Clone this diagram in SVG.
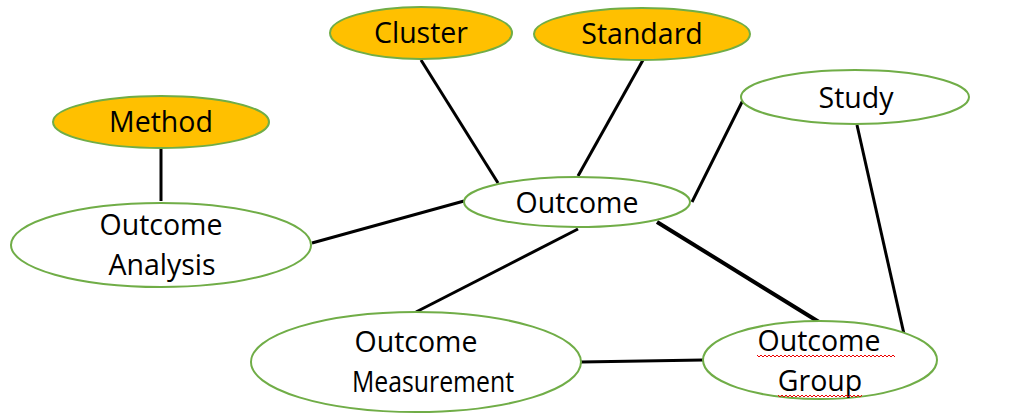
<svg xmlns="http://www.w3.org/2000/svg" width="1010" height="417" viewBox="0 0 1010 417">
<style>
.n{fill:#fff;stroke:#70ad47;stroke-width:2}
.y{fill:#ffc000;stroke:#70ad47;stroke-width:2}
.t{font-family:"Open Sans","Noto Sans",sans-serif;font-size:28.5px;fill:#000;text-anchor:middle}
.c line{stroke:#000;stroke-width:3}
.sq{fill:none;stroke:#e00;stroke-width:1}
</style>
<rect width="1010" height="417" fill="#fff"/>
<g class="c" id="connectors">
<line x1="161" y1="148" x2="161" y2="201"/>
<line x1="421" y1="60" x2="498" y2="183"/>
<line x1="643" y1="60" x2="578" y2="176"/>
<line x1="743" y1="100" x2="692" y2="202"/>
<line x1="857" y1="125" x2="904" y2="334"/>
<line x1="464" y1="201" x2="312" y2="243"/>
<line x1="578" y1="229" x2="416" y2="312"/>
<line x1="657" y1="222" x2="819" y2="322" style="stroke-width:4"/>
<line x1="581" y1="362" x2="703" y2="360"/>
</g>
<g id="cluster"><ellipse class="y" cx="421" cy="33" rx="91" ry="26"/><text class="t" x="421" y="43">Cluster</text></g>
<g id="standard"><ellipse class="y" cx="642" cy="34" rx="108" ry="26"/><text class="t" x="642" y="44">Standard</text></g>
<g id="method"><ellipse class="y" cx="161" cy="122" rx="108" ry="26"/><text class="t" x="161" y="132">Method</text></g>
<g id="study"><ellipse class="n" cx="855" cy="97" rx="114" ry="27"/><text class="t" x="856" y="108">Study</text></g>
<g id="outcome"><ellipse class="n" cx="577" cy="202" rx="113" ry="25"/><text class="t" x="577" y="213">Outcome</text></g>
<g id="outcome-analysis"><ellipse class="n" cx="161" cy="245" rx="150" ry="42"/><text class="t" x="161" y="235">Outcome</text><text class="t" x="162" y="275">Analysis</text></g>
<g id="outcome-measurement"><ellipse class="n" cx="416" cy="362" rx="165" ry="50"/><text class="t" x="416" y="352">Outcome</text><text class="t" x="433" y="392" textLength="162" lengthAdjust="spacingAndGlyphs">Measurement</text></g>
<g id="outcome-group"><ellipse class="n" cx="820" cy="360" rx="117" ry="39"/><text class="t" x="819" y="351">Outcome</text><text class="t" x="820" y="391">Group</text>
<path class="sq" d="M757 355 l2 2 l2 -2 l2 2 l2 -2 l2 2 l2 -2 l2 2 l2 -2 l2 2 l2 -2 l2 2 l2 -2 l2 2 l2 -2 l2 2 l2 -2 l2 2 l2 -2 l2 2 l2 -2 l2 2 l2 -2 l2 2 l2 -2 l2 2 l2 -2 l2 2 l2 -2 l2 2 l2 -2 l2 2 l2 -2 l2 2 l2 -2 l2 2 l2 -2 l2 2 l2 -2 l2 2 l2 -2 l2 2 l2 -2 l2 2 l2 -2 l2 2 l2 -2 l2 2 l2 -2 l2 2 l2 -2 l2 2 l2 -2 l2 2 l2 -2 l2 2 l2 -2 l2 2 l2 -2 l2 2 l2 -2 l2 2 l2 -2 l2 2 l2 -2 l2 2 l2 -2 l2 2 l2 -2 l2 2"/>
<path class="sq" d="M778 395 l2 2 l2 -2 l2 2 l2 -2 l2 2 l2 -2 l2 2 l2 -2 l2 2 l2 -2 l2 2 l2 -2 l2 2 l2 -2 l2 2 l2 -2 l2 2 l2 -2 l2 2 l2 -2 l2 2 l2 -2 l2 2 l2 -2 l2 2 l2 -2 l2 2 l2 -2 l2 2 l2 -2 l2 2 l2 -2 l2 2 l2 -2 l2 2 l2 -2 l2 2 l2 -2 l2 2 l2 -2 l2 2 l2 -2"/>
</g>
</svg>
